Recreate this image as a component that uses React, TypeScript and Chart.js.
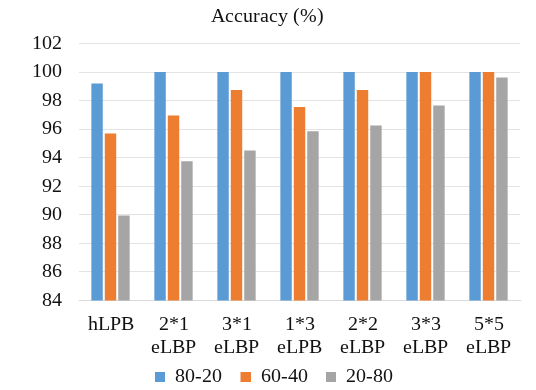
import React, { useEffect, useRef } from "react";
import { Chart, registerables } from "chart.js";

Chart.register(...registerables);

const categories: string[][] = [
  ["hLPB"],
  ["2*1", "eLBP"],
  ["3*1", "eLBP"],
  ["1*3", "eLPB"],
  ["2*2", "eLBP"],
  ["3*3", "eLBP"],
  ["5*5", "eLBP"],
];
const seriesNames = ["80-20", "60-40", "20-80"];
const seriesColors = ["#5B9BD5", "#ED7D31", "#A5A5A5"];
const series8020 = [99.2, 100, 100, 100, 100, 100, 100];
const series6040 = [95.7, 96.95, 98.75, 97.55, 98.75, 100, 100];
const series2080 = [89.95, 93.75, 94.5, 95.85, 96.25, 97.65, 99.62];
const yTicks = [84, 86, 88, 90, 92, 94, 96, 98, 100, 102];

const FONT = "ChartSerif, Liberation Serif, Tinos, Times New Roman, serif";

if (typeof document !== "undefined") {
  document.body.style.margin = "0";
}

function makeIcon(color: string): HTMLCanvasElement {
  const c = document.createElement("canvas");
  c.width = 23;
  c.height = 10;
  const g = c.getContext("2d");
  if (g) {
    g.fillStyle = color;
    g.fillRect(13, 0, 10, 10);
  }
  return c;
}

function loadSerif(): Promise<void> {
  try {
    const FF: any = (window as any).FontFace;
    const fonts: any = (document as any).fonts;
    if (!FF || !fonts) return Promise.resolve();
    const ff = new FF("ChartSerif", "local('Liberation Serif'), local('LiberationSerif'), local('Liberation Serif Regular'), local('Tinos'), local('Times New Roman')");
    fonts.add(ff);
    return ff.load().then(
      () => fonts.load("20px ChartSerif").then(() => undefined, () => undefined),
      () => undefined
    );
  } catch (e) {
    return Promise.resolve();
  }
}

export default function App() {
  const ref = useRef<HTMLCanvasElement | null>(null);
  useEffect(() => {
    const canvas = ref.current;
    if (!canvas) return;
    let chart: Chart | null = null;
    let alive = true;
    const icons = seriesColors.map(makeIcon);
    const build = () => {
      if (!alive || chart) return;
      chart = new Chart(canvas, {
        type: "bar",
        data: {
          labels: categories,
          datasets: [
            { label: seriesNames[0], data: series8020, backgroundColor: seriesColors[0] },
            { label: seriesNames[1], data: series6040, backgroundColor: seriesColors[1] },
            { label: seriesNames[2], data: series2080, backgroundColor: seriesColors[2] },
          ],
        },
        options: {
          animation: false,
          responsive: false,
          datasets: { bar: { barPercentage: 0.85, categoryPercentage: 0.64 } },
          layout: { padding: { left: 15, right: 16, top: 3, bottom: -7 } },
          plugins: {
            title: {
              display: true,
              text: "Accuracy (%)",
              color: "#111",
              font: { family: FONT, size: 20, weight: "normal" },
              padding: { top: 2, bottom: 14.5 },
            },
            legend: {
              position: "bottom",
              labels: {
                color: "#111",
                font: { family: FONT, size: 20 },
                usePointStyle: true,
                pointStyleWidth: 23,
                boxWidth: 10,
                boxHeight: 10,
                padding: 5.5,
                generateLabels: (ch: any) => {
                  const items = (Chart.defaults as any).plugins.legend.labels.generateLabels(ch);
                  items.forEach((it: any, i: number) => {
                    it.pointStyle = icons[i];
                  });
                  return items;
                },
              },
            },
            tooltip: { enabled: false },
          },
          scales: {
            x: {
              grid: { display: false, drawTicks: false },
              border: { color: "#d9d9d9" },
              afterFit: (scale: any) => {
                scale.height = 61;
              },
              ticks: {
                color: "#111",
                font: { family: FONT, size: 20, lineHeight: 1.15 },
                maxRotation: 0,
                autoSkip: false,
                padding: 13,
              },
            },
            y: {
              min: 84,
              max: 102,
              afterBuildTicks: (axis: any) => {
                axis.ticks = yTicks.map((v) => ({ value: v }));
              },
              grid: { color: "#e3e3e3", drawTicks: false },
              border: { display: false },
              ticks: {
                color: "#111",
                font: { family: FONT, size: 20 },
                padding: 17,
                autoSkip: false,
              },
            },
          },
        },
      });
    };
    const refresh = () => {
      if (alive && chart) chart.update();
    };
    loadSerif().then(() => {
      build();
      refresh();
    });
    const t1 = setTimeout(build, 400);
    const t2 = setTimeout(refresh, 700);
    return () => {
      alive = false;
      clearTimeout(t1);
      clearTimeout(t2);
      if (chart) chart.destroy();
    };
  }, []);
  return (
    <div style={{ width: 536, height: 390, fontFamily: "Liberation Serif" }}>
      <canvas ref={ref} width={536} height={390} style={{ display: "block", width: 536, height: 390 }} />
    </div>
  );
}
